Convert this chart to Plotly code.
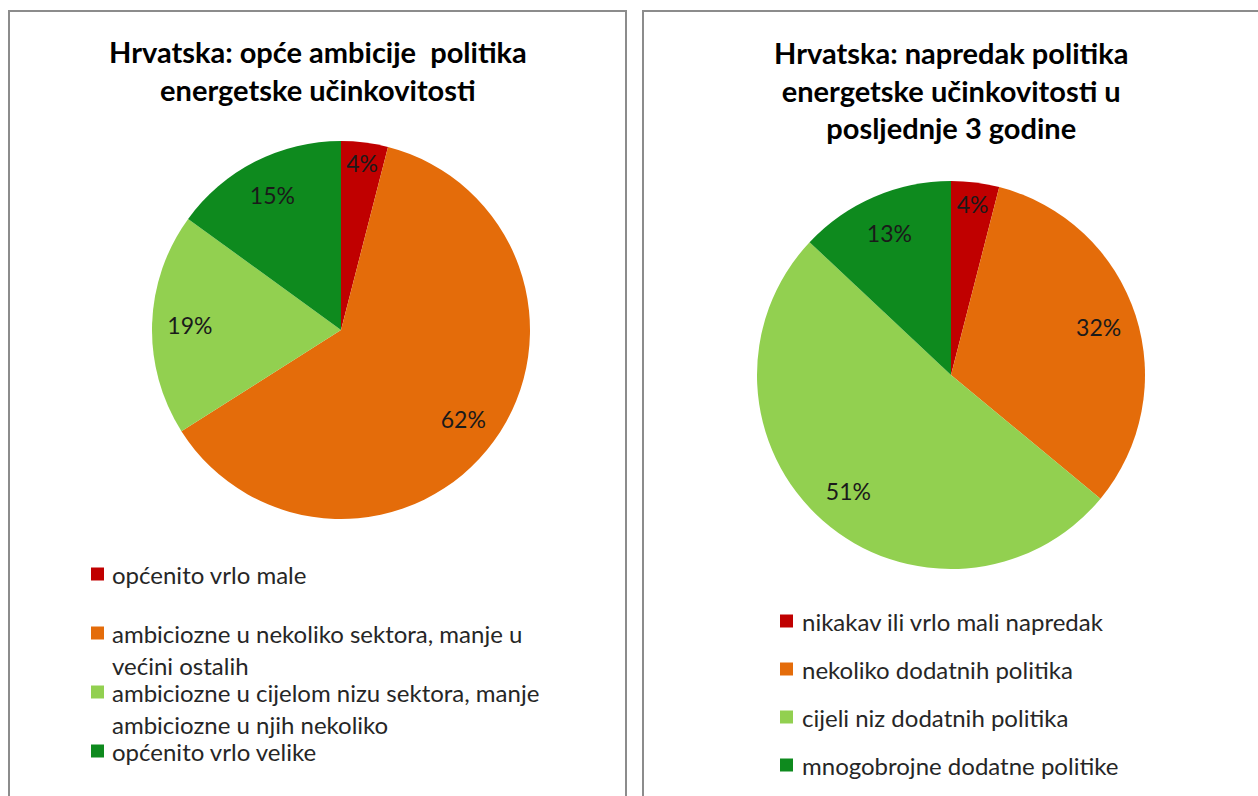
import plotly.graph_objects as go

W, H = 1258, 796

# data
colors = ["#C00000", "#E46C0A", "#92D050", "#0E8A1E"]

left_title = "Hrvatska: opće ambicije  politika<br>energetske učinkovitosti"
left_labels = [
    "općenito vrlo male",
    "ambiciozne u nekoliko sektora, manje u većini ostalih",
    "ambiciozne u cijelom nizu sektora, manje ambiciozne u njih nekoliko",
    "općenito vrlo velike",
]
left_legend_lines = [
    ["općenito vrlo male"],
    ["ambiciozne u nekoliko sektora, manje u", "većini ostalih"],
    ["ambiciozne u cijelom nizu sektora, manje", "ambiciozne u njih nekoliko"],
    ["općenito vrlo velike"],
]
left_values = [4, 62, 19, 15]

right_title = "Hrvatska: napredak politika<br>energetske učinkovitosti u<br>posljednje 3 godine"
right_labels = [
    "nikakav ili vrlo mali napredak",
    "nekoliko dodatnih politika",
    "cijeli niz dodatnih politika",
    "mnogobrojne dodatne politike",
]
right_values = [4, 32, 51, 13]

FONT = "Lato"
TEXT = "#262626"


def px(x):
    return x / W


def py(y):
    return 1 - y / H


def pie(labels, values, cx, cy, r):
    dom = dict(x=[px(cx - r), px(cx + r)], y=[py(cy + r), py(cy - r)])
    base = dict(labels=labels, values=values, sort=False, direction="clockwise",
                rotation=0, domain=dom, showlegend=False)
    slices = go.Pie(**base, marker=dict(colors=colors, line=dict(width=0)),
                    textinfo="none", hoverinfo="label+percent")
    # transparent ring on top, only to place the percent labels further out
    ring = go.Pie(**base, hole=0.6,
                  marker=dict(colors=["rgba(0,0,0,0)"] * len(values), line=dict(width=0)),
                  texttemplate="%{percent:.0%}", textposition="inside",
                  insidetextorientation="horizontal",
                  textfont=dict(family=FONT, size=23, color="#1a1a1a"),
                  hoverinfo="skip")
    return [slices, ring]


fig = go.Figure()
for t in pie(left_labels, left_values, 341, 330, 189):
    fig.add_trace(t)
for t in pie(right_labels, right_values, 951, 375, 194):
    fig.add_trace(t)

annotations = []
shapes = []

# panel frames
for x0, x1 in [(9, 626), (643, 1270)]:
    shapes.append(dict(type="rect", xref="paper", yref="paper",
                       x0=px(x0), x1=px(x1), y0=py(820), y1=py(11),
                       line=dict(color="#8c8c8c", width=2), fillcolor="rgba(0,0,0,0)"))

# titles
for title, x, y in [(left_title, 318, 70), (right_title, 951, 90)]:
    annotations.append(dict(text="<b>" + title.replace("<br>", "</b><br><b>") + "</b>",
                            x=px(x), y=py(y), xref="paper", yref="paper",
                            xanchor="center", yanchor="middle", showarrow=False,
                            font=dict(family=FONT, size=29, color="#000")))


def legend(lines_per_item, rows, sq_x, text_x, line_gap):
    for i, lines in enumerate(lines_per_item):
        y0 = rows[i]
        shapes.append(dict(type="rect", xref="paper", yref="paper",
                           x0=px(sq_x), x1=px(sq_x + 13), y0=py(y0 + 6.5), y1=py(y0 - 6.5),
                           line=dict(width=0), fillcolor=colors[i]))
        for j, t in enumerate(lines):
            annotations.append(dict(text=t, x=px(text_x), y=py(y0 + j * line_gap),
                                    xref="paper", yref="paper", xanchor="left",
                                    yanchor="middle", showarrow=False,
                                    font=dict(family=FONT, size=24, color=TEXT)))


legend(left_legend_lines, [574, 633, 692, 751], 91, 110, 32)
legend([[t] for t in right_labels], [621, 669, 717, 765], 780, 800, 32)

fig.update_layout(
    width=W, height=H,
    margin=dict(l=0, r=0, t=0, b=0),
    paper_bgcolor="white",
    plot_bgcolor="white",
    font=dict(family=FONT, color=TEXT),
    uniformtext=dict(minsize=23, mode="show"),
    annotations=annotations,
    shapes=shapes,
)

fig.write_html("out.html", config={"displayModeBar": False},
               post_script="document.body.style.margin='0';")
